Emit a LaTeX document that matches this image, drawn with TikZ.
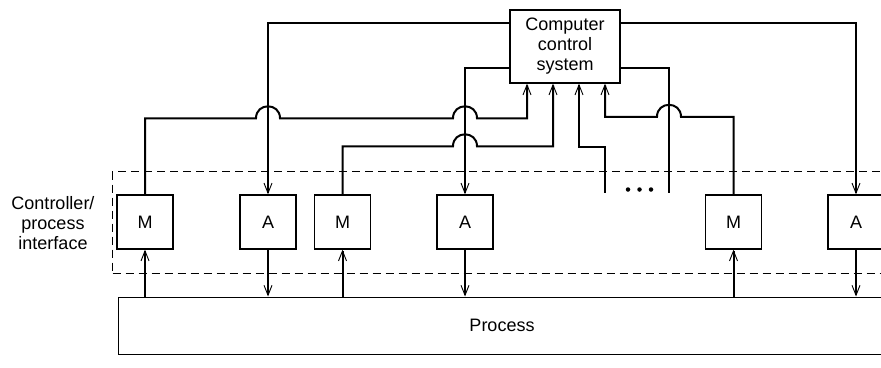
\documentclass[tikz,border=0pt]{standalone}
\usepackage{fontspec}
\setmainfont{Liberation Sans}
\usetikzlibrary{arrows.meta}
\tikzset{
  >={Straight Barb[length=10pt,width=8pt,line width=0.9pt]},
  txt/.style={font=\fontsize{18}{20}\selectfont},
  sig/.style={line width=2pt},
  ibox/.style={draw, line width=1.4pt, minimum width=56pt, minimum height=54pt, inner sep=0pt, txt},
  cbox/.style={draw, line width=1.4pt, minimum width=110pt, minimum height=73pt, inner sep=0pt, align=center, txt},
  pbox/.style={draw, line width=1.4pt, minimum width=800pt, minimum height=57pt, inner sep=0pt, anchor=north west},
  dbox/.style={draw, line width=1pt, dash pattern=on 8pt off 5pt, minimum width=820pt, minimum height=102pt, inner sep=0pt, anchor=north west},
  dotc/.style={circle, fill, inner sep=0pt, minimum size=4.5pt}
}
\begin{document}
\begin{tikzpicture}[x=1pt,y=-1pt]
\useasboundingbox (0,0) rectangle (881,367);
\clip (0,0) rectangle (881,367);
\fill[white] (0,0) rectangle (881,367);

% interface region and process
\node[dbox] (iface) at (112,171) {};
\node[pbox] (proc) at (118,296.5) {};
\node[txt] (ptext) at (502,325) {Process};
\node[txt, align=center] (lbl) at (53,222.6) {Controller/\\process\\interface};

% computer
\node[cbox] (ccs) at (565,46.5) {Computer\\control\\system};

% measurement and actuator boxes
\node[ibox] (m1) at (145,222) {M};
\node[ibox] (a1) at (268,222) {A};
\node[ibox] (m2) at (342.5,222) {M};
\node[ibox] (a2) at (465,222) {A};
\node[ibox] (m3) at (733.5,222) {M};
\node[ibox] (a4) at (856,222) {A};

% open ends near the dots
\coordinate (s1) at (605,192.5);
\coordinate (s2) at (669,192.5);
\node[dotc] (d1) at (628,189.5) {};
\node[dotc] (d2) at (639.5,189.5) {};
\node[dotc] (d3) at (651,189.5) {};

% outputs from the computer
\draw[sig,->] ([yshift=-14pt]ccs.north east) -| (a4.north);
\draw[sig,->] ([yshift=-14pt]ccs.north west) -| (a1.north);
\draw[sig,->] ([yshift=-59pt]ccs.north west) -| (a2.north);
\draw[sig] ([yshift=-59pt]ccs.north east) -| (s2);

% inputs to the computer
\draw[sig,->] (m1.north) -- ++(0,-76) -- ++(111,0)
  .. controls +(0,-16) and +(0,-16) .. ++(24,0) -- ++(173,0)
  .. controls +(0,-16) and +(0,-16) .. ++(24,0)
  -| ([xshift=-38pt]ccs.south);
\draw[sig,->] (m2.north) -- ++(0,-48) -- ++(110.5,0)
  .. controls +(0,-16) and +(0,-16) .. ++(24,0)
  -| ([xshift=-12pt]ccs.south);
\draw[sig,->] (s1) -- ++(0,-45.5) -| ([xshift=14pt]ccs.south);
\draw[sig,->] (m3.north) -- ++(0,-77.5) -- ++(-52.5,0)
  .. controls +(0,-16) and +(0,-16) .. ++(-24,0)
  -| ([xshift=40pt]ccs.south);

% links to the process
\draw[sig,->] (m1.south |- proc.north) -- (m1.south);
\draw[sig,->] (a1.south) -- (a1.south |- proc.north);
\draw[sig,->] (m2.south |- proc.north) -- (m2.south);
\draw[sig,->] (a2.south) -- (a2.south |- proc.north);
\draw[sig,->] (m3.south |- proc.north) -- (m3.south);
\draw[sig,->] (a4.south) -- (a4.south |- proc.north);
\end{tikzpicture}
\end{document}
